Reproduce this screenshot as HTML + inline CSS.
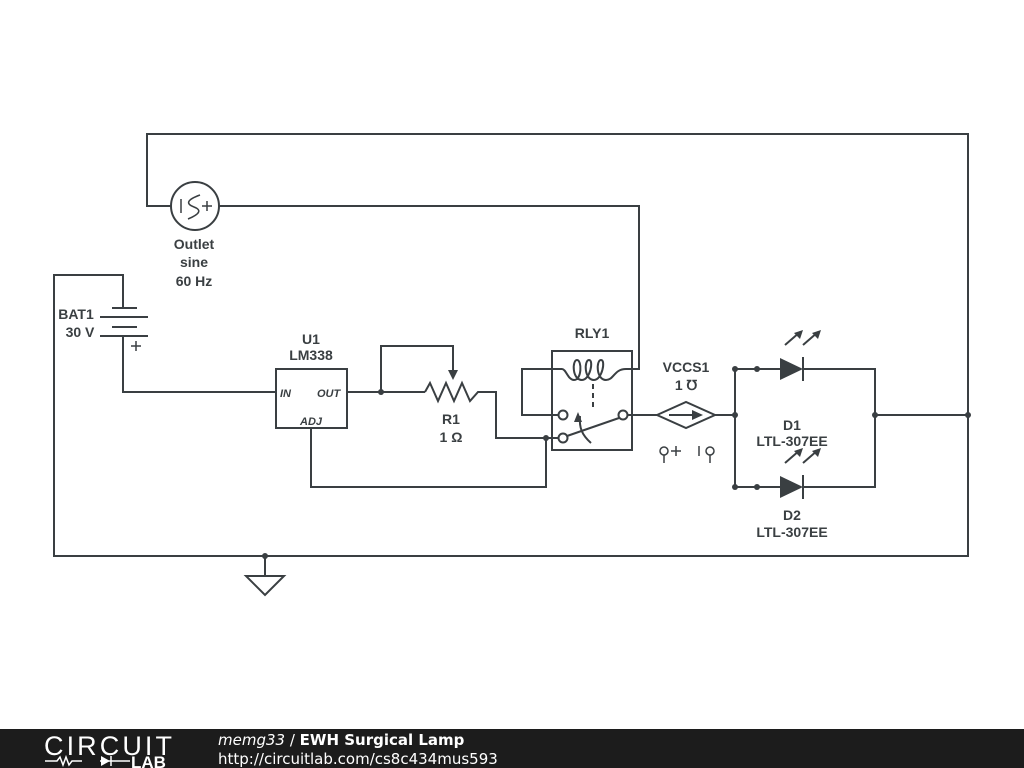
<!DOCTYPE html>
<html><head><meta charset="utf-8"><style>
body{margin:0;width:1024px;height:768px;background:#fff;overflow:hidden;font-family:"Liberation Sans",sans-serif}
svg{position:absolute;left:0;top:0}
</style></head><body>
<svg width="1024" height="768" viewBox="0 0 1024 768">
<g stroke="#3a3f42" stroke-width="2" fill="none">
<polyline points="171,206 147,206 147,134 968,134 968,556 54,556 54,275 123,275 123,308"/>
<polyline points="219,206 639,206 639,369 626,369"/>
<circle cx="195" cy="206" r="24"/>
<line x1="181" y1="199" x2="181" y2="213" stroke-width="1.5"/>
<path d="M200,195 C186,200 186,204 194,207 C202,210 200,214 188,219" stroke-width="1.5"/>
<path d="M202,206 h10 M207,201 v10" stroke-width="1.5"/>
<line x1="112" y1="308" x2="137" y2="308"/><line x1="100" y1="317" x2="148" y2="317"/>
<line x1="112" y1="327" x2="137" y2="327"/><line x1="100" y1="336" x2="148" y2="336"/>
<path d="M131,346 h10 M136,341 v10" stroke-width="1.5"/>
<polyline points="123,336 123,392 276,392"/>
<rect x="276" y="369" width="71" height="59"/>
<polyline points="347,392 425,392"/>
<polyline points="381,392 381,346 453,346 453,372"/>
<polyline points="425,392 430,383 438,401 446,383 454,401 462,383 470,401 478,392 496,392 496,438 563,438"/>
<polyline points="311,428 311,487 546,487 546,438"/>
<rect x="552" y="351" width="80" height="99"/>
<polyline points="563,415 522,415 522,369 562,369"/>
<path d="M562,369 C566,369 568,380 574,380 C582,380 582,360 577,360 C572,360 572,380 582,380 C590,380 594,360 589,360 C584,360 584,380 594,380 C602,380 606,360 601,360 C596,360 596,380 606,380 C614,380 614,369 626,369"/>
<line x1="593" y1="384" x2="593" y2="410" stroke-dasharray="5,4"/>
<line x1="567" y1="436" x2="619" y2="418"/>
<path d="M591,443 C582,435 579,428 580,416"/>
<circle cx="563" cy="415" r="4.5" fill="#fff"/>
<circle cx="563" cy="438" r="4.5" fill="#fff"/>
<circle cx="623" cy="415" r="4.5" fill="#fff"/>
<polyline points="627,415 657,415"/>
<polygon points="657,415 686,402 715,415 686,428"/>
<line x1="669" y1="415" x2="693" y2="415"/>
<polyline points="715,415 735,415"/>
<polyline points="780,369 735,369 735,487 780,487"/>
<polyline points="803,369 875,369 875,487 803,487"/>
<polyline points="875,415 968,415"/>
<line x1="803" y1="357" x2="803" y2="381"/><line x1="803" y1="475" x2="803" y2="499"/>
<line x1="785" y1="345" x2="800" y2="332"/><line x1="803" y1="345" x2="818" y2="332"/>
<line x1="785" y1="463" x2="800" y2="450"/><line x1="803" y1="463" x2="818" y2="450"/>
<polyline points="265,556 265,576"/>
<polygon points="246,576 284,576 265,595"/>
<circle cx="664" cy="451" r="4" stroke-width="1.5"/><line x1="664" y1="455" x2="664" y2="463" stroke-width="1.5"/>
<path d="M671,451 h10 M676,446 v10" stroke-width="1.5"/>
<line x1="699" y1="446" x2="699" y2="456" stroke-width="1.5"/>
<circle cx="710" cy="451" r="4" stroke-width="1.5"/><line x1="710" y1="455" x2="710" y2="463" stroke-width="1.5"/>
</g>
<g fill="#3a3f42">
<polygon points="453,380 448,370 458,370"/>
<polygon points="578,412 574,422 582,422"/>
<polygon points="703,415 692,410 692,420"/>
<polygon points="780,358 803,369 780,380"/>
<polygon points="780,476 803,487 780,498"/>
<polygon points="803,330 794,333 800,339"/><polygon points="821,330 812,333 818,339"/>
<polygon points="803,448 794,451 800,457"/><polygon points="821,448 812,451 818,457"/>
<circle cx="381" cy="392" r="3"/><circle cx="546" cy="438" r="3"/>
<circle cx="735" cy="415" r="3"/><circle cx="735" cy="369" r="3"/><circle cx="757" cy="369" r="3"/>
<circle cx="735" cy="487" r="3"/><circle cx="757" cy="487" r="3"/>
<circle cx="875" cy="415" r="3"/><circle cx="968" cy="415" r="3"/><circle cx="265" cy="556" r="3"/>
</g>
<g fill="#3a3f42" font-family="Liberation Sans,sans-serif" font-weight="bold" font-size="14" text-anchor="middle">
<text x="194" y="249">Outlet</text><text x="194" y="267">sine</text><text x="194" y="286">60 Hz</text>
<text x="76" y="319">BAT1</text><text x="80" y="337">30 V</text>
<text x="311" y="344">U1</text><text x="311" y="360">LM338</text>
<text x="451" y="424">R1</text><text x="451" y="442">1 Ω</text>
<text x="592" y="338">RLY1</text>
<text x="686" y="372">VCCS1</text><text x="686" y="390">1 ℧</text>
<text x="792" y="430">D1</text><text x="792" y="446">LTL-307EE</text>
<text x="792" y="520">D2</text><text x="792" y="537">LTL-307EE</text>
</g>
<g fill="#3a3f42" font-family="Liberation Sans,sans-serif" font-style="italic" font-weight="bold" font-size="11">
<text x="280" y="397">IN</text><text x="317" y="397">OUT</text><text x="300" y="425">ADJ</text>
</g>
<rect x="0" y="729" width="1024" height="39" fill="#1c1c1c"/>
<text x="44" y="755" fill="#fff" font-family="Liberation Sans,sans-serif" font-size="27" textLength="128">CIRCUIT</text>
<g stroke="#fff" stroke-width="1.5" fill="none"><path d="M45,761 h12 l3,-4 3,8 3,-8 3,8 3,-4 h10 M100,761 h30"/><line x1="111" y1="756" x2="111" y2="766"/></g>
<polygon points="101,756 110,761 101,766" fill="#fff"/>
<text x="131" y="768" fill="#fff" font-family="Liberation Sans,sans-serif" font-weight="bold" font-size="17">LAB</text>
<text x="218" y="745" fill="#fff" font-family="DejaVu Sans,sans-serif" font-size="15"><tspan font-style="italic">memg33</tspan> / <tspan font-weight="bold">EWH Surgical Lamp</tspan></text>
<text x="218" y="764" fill="#fff" font-family="DejaVu Sans,sans-serif" font-size="15">http://circuitlab.com/cs8c434mus593</text>
</svg>
</body></html>
